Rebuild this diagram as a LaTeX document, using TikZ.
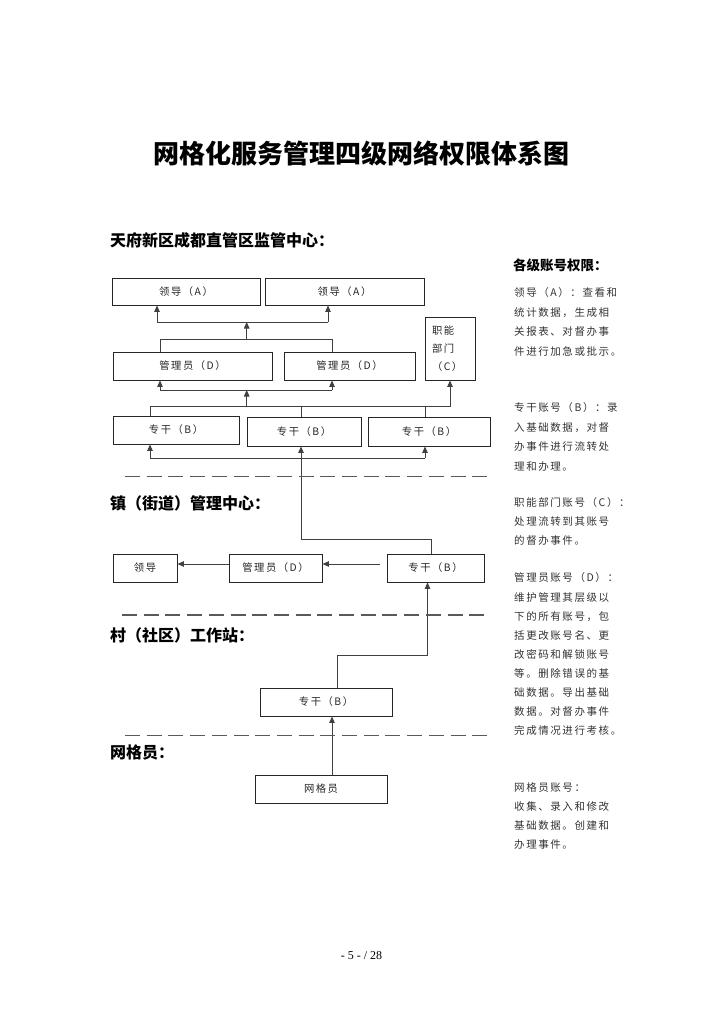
\documentclass[tikz,border=0pt]{standalone}
\usepackage{fontspec}
\usetikzlibrary{arrows.meta}
\newfontfamily\cjk{Noto Sans CJK SC}
\newfontfamily\cjkls[LetterSpace=15]{Noto Sans CJK SC}
\newfontfamily\pagefont{Liberation Serif}
\newcommand\rline[3]{\node[rtext] (#1) at (514,#2) {#3};}
\begin{document}
\begin{tikzpicture}[x=1pt,y=-1pt,
  box/.style={draw=black!85, line width=0.9pt, inner sep=0pt, font=\cjkls\fontsize{10.3}{12}\selectfont, text=black!85},
  conn/.style={draw=black!75, line width=0.9pt},
  arr/.style={conn, -{Triangle[length=6.5pt,width=5.5pt]}},
  dashline/.style={draw=black!65, line width=1.1pt, dash pattern=on 15pt off 6.7pt},
  head/.style={font=\cjk\bfseries\fontsize{16}{18}\selectfont, anchor=west, inner sep=0pt},
  rtext/.style={font=\cjkls\fontsize{10.5}{12}\selectfont, anchor=west, inner sep=0pt, text=black!80}]
\useasboundingbox[fill=white] (0,0) rectangle (724,1024);

% title
\node[font=\cjk\bfseries\fontsize{26}{30}\selectfont, inner sep=0pt] (title) at (361.5,153) {网格化服务管理四级网络权限体系图};

% section headings
\node[head] (h1) at (110,240) {天府新区成都直管区监管中心：};
\node[head] (h2) at (110,503) {镇（街道）管理中心：};
\node[head] (h3) at (110,635) {村（社区）工作站：};
\node[head] (h4) at (110,752) {网格员：};

% boxes
\node[box, minimum width=148pt, minimum height=27pt] (A1) at (186,291.5) {领导（A）};
\node[box, minimum width=159pt, minimum height=27pt] (A2) at (344.5,291.5) {领导（A）};
\node[box, minimum width=159pt, minimum height=28pt] (D1) at (192.5,366) {管理员（D）};
\node[box, minimum width=131pt, minimum height=28pt] (D2) at (349.5,366) {管理员（D）};
\node[box, minimum height=63pt, inner xsep=7pt, text width=36pt, align=left, font=\cjkls\fontsize{10.3}{18}\selectfont] (C) at (450,348.5) {职能\\部门\\（C）};
\node[box, minimum width=126pt, minimum height=28pt] (B1) at (176,430) {专干（B）};
\node[box, minimum width=114pt, minimum height=29pt] (B2) at (304,431.5) {专干（B）};
\node[box, minimum width=122pt, minimum height=29pt] (B3) at (429,431.5) {专干（B）};
\node[box, minimum width=64pt, minimum height=28pt] (TL) at (145,568) {领导};
\node[box, minimum width=93pt, minimum height=28pt] (TD) at (275.5,568) {管理员（D）};
\node[box, minimum width=97pt, minimum height=28pt] (TB) at (435.5,568) {专干（B）};
\node[box, minimum width=132pt, minimum height=28pt] (VB) at (326,702) {专干（B）};
\node[box, minimum width=132pt, minimum height=28pt] (GR) at (321,789) {网格员};

% top connectors
\coordinate (a1) at (157,322);
\coordinate (a2) at (328,322);
\coordinate (am) at (246.7,322);
\coordinate (dm) at (246.7,339);
\coordinate (d1) at (160,339);
\coordinate (d2) at (332,339);
\draw[conn] (a1) -- (a2);
\draw[arr] (a1) -- (a1 |- A1.south);
\draw[arr] (a2) -- (a2 |- A2.south);
\draw[arr] (dm) -- (am);
\draw[conn] (d1 |- D1.north) -- (d1) -- (d2) -- (d2 |- D2.north);

\coordinate (e1) at (160,390);
\coordinate (e2) at (332,390);
\coordinate (em) at (246.7,390);
\coordinate (fm) at (246.7,406.7);
\coordinate (f1) at (150,406.7);
\coordinate (f2) at (301,406.7);
\coordinate (f3) at (425,406.7);
\coordinate (f4) at (450,406.7);
\draw[conn] (e1) -- (e2);
\draw[arr] (e1) -- (e1 |- D1.south);
\draw[arr] (e2) -- (e2 |- D2.south);
\draw[arr] (fm) -- (em);
\draw[conn] (f1 |- B1.north) -- (f1) -- (f4);
\draw[conn] (f2) -- (f2 |- B2.north);
\draw[conn] (f3) -- (f3 |- B3.north);
\draw[arr] (f4) -- (f4 |- C.south);

\coordinate (g1) at (150,458.3);
\coordinate (g3) at (425,458.3);
\draw[conn] (g1) -- (g3);
\draw[arr] (g1) -- (g1 |- B1.south);
\draw[arr] (g3) -- (g3 |- B3.south);

\coordinate (k1) at (301,539.3);
\coordinate (k2) at (431.7,539.3);
\draw[arr] (k2 |- TB.north) -- (k2) -- (k1) -- (k1 |- B2.south);

% town row
\coordinate (t1) at (380,564);
\draw[arr] (t1) -- (t1 -| TD.east);
\draw[arr] (TD.west |- t1) -- (t1 -| TL.east);

% village
\coordinate (v1) at (337,655);
\coordinate (v2) at (427.5,655);
\draw[arr] (v1 |- VB.north) -- (v1) -- (v2) -- (v2 |- TB.south);
\coordinate (w) at (332,760);
\draw[arr] (w |- GR.north) -- (w |- VB.south);

% dashed separators
\coordinate (s1a) at (125,476.7); \coordinate (s1b) at (490,476.7);
\coordinate (s2a) at (122,615);   \coordinate (s2b) at (490,615);
\coordinate (s3a) at (125,735.7); \coordinate (s3b) at (490,735.7);
\draw[dashline] (s1a) -- (s1b);
\draw[dashline] (s2a) -- (s2b);
\draw[dashline] (s3a) -- (s3b);

% right column
\node[font=\cjk\bfseries\fontsize{13.5}{16}\selectfont, anchor=west, inner sep=0pt] (rh) at (513,265) {各级账号权限：};
\rline{ra1}{293}{领导（A）：查看和}
\rline{ra2}{312.5}{统计数据，生成相}
\rline{ra3}{332}{关报表、对督办事}
\rline{ra4}{351.5}{件进行加急或批示。}
\rline{rb1}{408}{专干账号（B）：录}
\rline{rb2}{427.5}{入基础数据，对督}
\rline{rb3}{447}{办事件进行流转处}
\rline{rb4}{466.5}{理和办理。}
\rline{rc1}{503}{职能部门账号（C）：}
\rline{rc2}{522}{处理流转到其账号}
\rline{rc3}{541}{的督办事件。}
\rline{rd1}{578}{管理员账号（D）：}
\rline{rd2}{597.1}{维护管理其层级以}
\rline{rd3}{616.2}{下的所有账号，包}
\rline{rd4}{635.3}{括更改账号名、更}
\rline{rd5}{654.4}{改密码和解锁账号}
\rline{rd6}{673.5}{等。删除错误的基}
\rline{rd7}{692.6}{础数据。导出基础}
\rline{rd8}{711.7}{数据。对督办事件}
\rline{rd9}{730.8}{完成情况进行考核。}
\rline{rg1}{788}{网格员账号：}
\rline{rg2}{807}{收集、录入和修改}
\rline{rg3}{826}{基础数据。创建和}
\rline{rg4}{845}{办理事件。}

% footer
\node[font=\pagefont\fontsize{12}{14}\selectfont, inner sep=0pt] (page) at (361.5,956) {- 5 - / 28};
\end{tikzpicture}
\end{document}
